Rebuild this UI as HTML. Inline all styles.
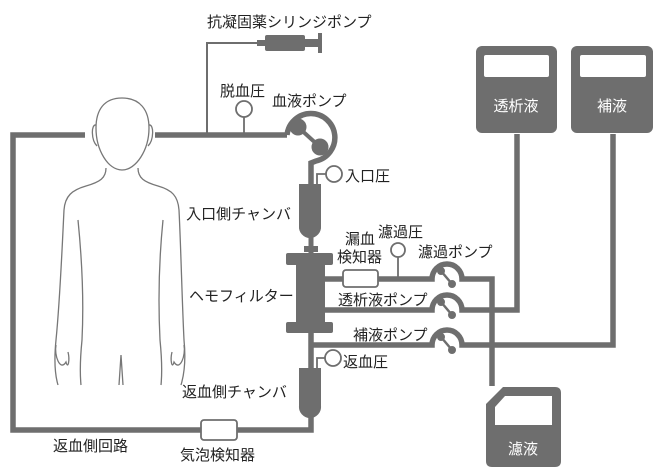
<!DOCTYPE html>
<html><head><meta charset="utf-8"><style>
html,body{margin:0;padding:0;background:#fff;}
svg{display:block;}
text{font-family:"Liberation Sans","Noto Sans CJK JP",sans-serif;font-size:15px;fill:#222;}
</style></head><body>
<svg width="661" height="475" viewBox="0 0 661 475" xmlns="http://www.w3.org/2000/svg">
<g fill="none" stroke="#777" stroke-width="1.3">
<path d="M122,98 C104,98 96,110 96,128 C96,150 108,170 122,170 C136,170 149,150 149,128 C149,110 140,98 122,98 Z"/>
<path d="M96,125 C91,124 91,140 97,146"/>
<path d="M149,125 C154,124 154,140 148,146"/>
<path d="M106,168 C106,178 100,182 86,186 C72,190 65,196 64,210 C62,250 60,300 56,340 C54,360 55,375 58,385"/>
<path d="M138,168 C138,178 144,182 158,186 C172,190 178,196 179,210 C181,250 182,300 184,340 C186,360 184,375 181,385"/>
<path d="M78,220 C82,260 84,300 82,340 C80,360 80,375 81,385"/>
<path d="M163,220 C159,260 158,300 160,340 C162,360 162,375 161,385"/>
<path d="M56,345 C54,355 60,372 66,362 C68,370 70,360 68,352"/>
<path d="M184,345 C186,355 180,372 174,362 C172,370 170,360 172,352"/>
<path d="M119,385 L121,355 L123,385"/>
</g>
<g stroke="#6e6e6e" fill="none" stroke-width="5.5">
<path d="M85,135 L13,135 L13,430 L311,430 L311,410"/>
<path d="M155,135 L287,135"/>
<path d="M207,135 L207,43 L260,43" stroke-width="2"/>
<path d="M287,135 A24,24 0 1 1 316,161 L311,163 L311,186"/>
<path d="M325,279 L432,279 A15,15 0 0 1 462,279 L492,279 L492,386"/>
<path d="M325,310 L432,310 A15,15 0 0 1 462,310 L517,310 L517,134"/>
<path d="M311,333 L311,370"/>
<path d="M311,345 L432,345 A15,15 0 0 1 462,345 L613,345 L613,134"/>
<path d="M311,236 L311,255" stroke-width="5"/>
</g>
<g fill="#6e6e6e" stroke="#6e6e6e">
<line x1="298" y1="127" x2="320" y2="147" stroke-width="4"/>
<circle cx="298" cy="127" r="8"/><circle cx="320" cy="147" r="8"/>
<line x1="441" y1="271" x2="452" y2="284" stroke-width="2.5"/><circle cx="441" cy="271" r="3.5"/><circle cx="452" cy="284" r="3.5"/>
<line x1="441" y1="302" x2="452" y2="315" stroke-width="2.5"/><circle cx="441" cy="302" r="3.5"/><circle cx="452" cy="315" r="3.5"/>
<line x1="441" y1="337" x2="452" y2="350" stroke-width="2.5"/><circle cx="441" cy="337" r="3.5"/><circle cx="452" cy="350" r="3.5"/>
</g>
<g fill="#6e6e6e">
<rect x="257" y="40" width="10" height="6"/>
<rect x="265" y="35" width="40" height="16" rx="2"/>
<rect x="304" y="39" width="16" height="8"/>
<rect x="318" y="33" width="4" height="20"/>
</g>
<g fill="#6e6e6e">
<path d="M299,184 L321,184 L321,226 A11,11 0 0 1 310,238 A11,11 0 0 1 299,226 Z"/>
<rect x="304" y="246" width="14" height="6"/>
<path d="M299,368 L321,368 L321,406 A11,11 0 0 1 310,418 A11,11 0 0 1 299,406 Z"/>
<rect x="286" y="253" width="47" height="12" rx="2"/>
<rect x="296" y="253" width="29" height="80"/>
<rect x="286" y="322" width="47" height="11" rx="2"/>
</g>
<g fill="#fff" stroke="#6e6e6e" stroke-width="1.8">
<line x1="244" y1="117" x2="244" y2="135"/><circle cx="244" cy="109" r="8"/>
<polyline points="317,186 317,174 326,174" fill="none"/><circle cx="334" cy="174" r="8"/>
<line x1="398" y1="257" x2="398" y2="279"/><circle cx="398" cy="250" r="7"/>
<polyline points="317,370 317,358 325,358" fill="none"/><circle cx="333" cy="358" r="8"/>
<rect x="343" y="270" width="35" height="17" rx="3"/>
<rect x="201" y="420" width="36" height="20" rx="3"/>
</g>
<g fill="#6e6e6e">
<rect x="476" y="46" width="81" height="87" rx="6"/>
<rect x="571" y="46" width="82" height="87" rx="6"/>
<path d="M503,387 L555,387 Q561,387 561,393 L561,461 Q561,467 555,467 L492,467 Q486,467 486,461 L486,404 Z"/>
</g>
<g fill="#fff">
<rect x="484" y="55" width="65" height="22" rx="2"/>
<rect x="580" y="55" width="66" height="22" rx="2"/>
<path d="M505,396 L552,396 L552,425 L495,425 L495,407 Z"/>
</g>
<text x="516" y="111" text-anchor="middle" style="fill:#fff">透析液</text>
<text x="612" y="111" text-anchor="middle" style="fill:#fff">補液</text>
<text x="523" y="454" text-anchor="middle" style="fill:#fff">濾液</text>
<text x="207" y="27">抗凝固薬シリンジポンプ</text>
<text x="220" y="96">脱血圧</text>
<text x="272" y="106">血液ポンプ</text>
<text x="345" y="181">入口圧</text>
<text x="291" y="219" text-anchor="end">入口側チャンバ</text>
<text x="345" y="244">漏血</text>
<text x="337" y="262">検知器</text>
<text x="378" y="237">濾過圧</text>
<text x="418" y="257">濾過ポンプ</text>
<text x="189" y="301">ヘモフィルター</text>
<text x="338" y="305">透析液ポンプ</text>
<text x="353" y="340">補液ポンプ</text>
<text x="343" y="367">返血圧</text>
<text x="182" y="397">返血側チャンバ</text>
<text x="53" y="451">返血側回路</text>
<text x="180" y="460">気泡検知器</text>
</svg>
</body></html>
